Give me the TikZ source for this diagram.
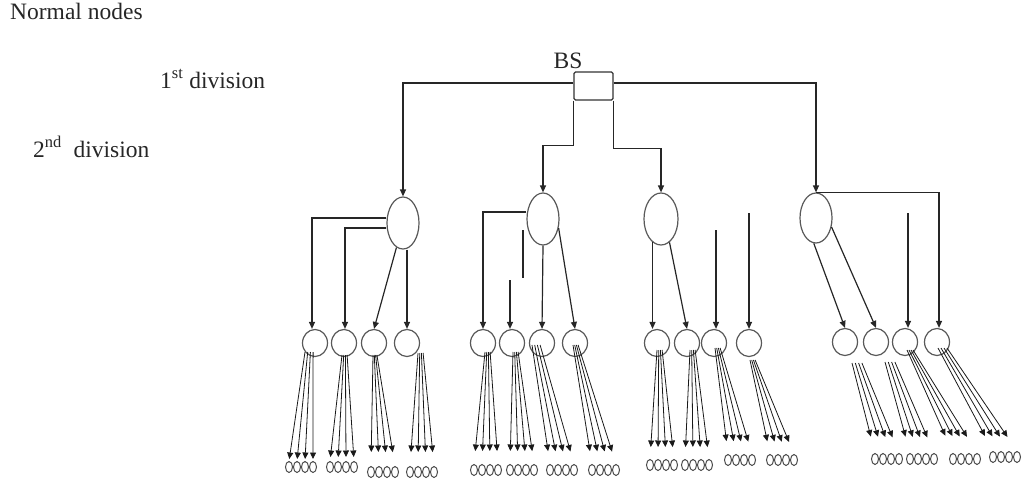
\documentclass[tikz,border=0pt]{standalone}
\usepackage{fontspec}
\setmainfont{Liberation Serif}
\usetikzlibrary{arrows.meta,shapes.geometric,calc}
\begin{document}
\begin{tikzpicture}[x=1pt,y=-1pt,
  lbl/.style={inner sep=0pt,font=\fontsize{23.5}{28}\selectfont,text=black!85},
  bsbox/.style={draw=black!80,line width=1.1pt,rounded corners=1.5pt,minimum width=39pt,minimum height=28pt,inner sep=0pt},
  head/.style={draw=black!65,line width=1.2pt,ellipse,minimum width=32pt,minimum height=52pt,inner sep=0pt},
  sub/.style={draw=black!65,line width=1.2pt,ellipse,minimum width=25pt,minimum height=27pt,inner sep=0pt},
  leaf/.style={draw=black!70,line width=1pt,ellipse,minimum width=7pt,minimum height=11pt,inner sep=0pt},
  conn/.style={draw=black!85,line width=1.2pt,-{Triangle[length=7pt,width=6pt]}},
  plain/.style={draw=black!85,line width=1.2pt},
  leafarrow/.style={draw=black!90,line width=0.8pt,-{Triangle[length=6.5pt,width=6pt]}}]
\useasboundingbox (0,0) rectangle (1024,487);

% labels
\node[lbl,anchor=base west] (nn) at (10,20) {Normal nodes};
\node[lbl,anchor=base west] (d1) at (160,88) {1\textsuperscript{st} division};
\node[lbl,anchor=base west] (d2) at (33,157) {2\textsuperscript{nd}\ \ division};
\node[lbl,anchor=base] (bslbl) at (568,68) {BS};

% base station
\node[bsbox] (bs) at (593.5,86) {};

% first division heads
\node[head] (e1) at (403,223) {};
\node[head] (e2) at (543,219) {};
\node[head,minimum width=34pt] (e3) at (661,219) {};
\node[head,minimum height=50pt] (e4) at (816,218) {};

% second division heads
\foreach \n/\x/\y in {c11/315/343,c12/344/343,c13/374/343,c14/407/343,
                     c21/483/343,c22/512/343,c23/542/343,c24/575/343,
                     c31/657/343,c32/687/343,c33/714/343,c34/749/343,
                     c41/845/342,c42/876/342,c43/905/342,c44/937/342}
  \node[sub] (\n) at (\x,\y) {};

% base station to first division
\draw[conn] ([yshift=3pt]bs.west) -| (e1.north);
\draw[conn] ([yshift=3pt]bs.east) -| (e4.north);
\draw[conn] (bs.south west) -- ++(0,45) -| (e2.north);
\draw[conn] (bs.south east) -- ++(0,48) -| (e3.north);

% free ends of the loose feeder lines
\coordinate (f1) at (523,230);
\coordinate (f1b) at (523,278);
\coordinate (f2) at (510,280);
\coordinate (f3) at (716,230);
\coordinate (f4) at (749,213);
\coordinate (f5) at (908,213);

% first division to second division
\draw[conn] ([yshift=5pt]e1.west) -| ([xshift=-3pt]c11.north);
\draw[conn] ([yshift=-5pt]e1.west) -| ([xshift=1pt]c12.north);
\draw[conn] (e1.-105) -- (c13.north);
\draw[conn] (c14.north |- e1.south) -- (c14.north);

\draw[conn] ([yshift=7pt]e2.west) -| (c21.north);
\draw[plain] (f1) -- (f1b);
\draw[conn] (f2) -- (f2 |- c22.north);
\draw[conn] (e2.south) -- (c23.north);
\draw[conn] (e2.-30) -- (c24.north);

\draw[conn] (e3.-110) -- (e3.-110 |- c31.north);
\draw[conn] (e3.-70) -- (c32.north);
\draw[conn] (f3) -- (f3 |- c33.north);
\draw[conn] (f4) -- (c34.north);

\draw[conn] (e4.-95) -- (c41.north);
\draw[conn] (e4.-30) -- (c42.north);
\draw[conn] (f5) -- (f5 |- c43.north);
\draw[conn] (e4.north) -| ([xshift=2pt]c44.north);

% second division to normal nodes
\foreach \c/\dx/\st/\dy/\lx/\ly/\sh in {
  c11/-10/2.7/9/289/467/2,
  c12/-2/1.7/12/330/467/4,
  c13/-1/1.3/12/371/472/14,
  c14/11/1.7/10/410/472/14,
  c21/2/1.7/9/474/470/13,
  c22/1/1.7/9/510/470/13,
  c23/-10/2.7/2/550/470/13,
  c24/-2/1.7/2/592/470/13,
  c31/0/1.7/7/650/465/12,
  c32/3/1.7/7/685/465/12,
  c33/1/1.7/5/728/460/13,
  c34/1/1.7/17/770/460/13,
  c41/7/3.3/21/875/459/17,
  c42/9/3.3/20/910/459/17,
  c43/2/2/8/953/459/19,
  c44/1/3/6/993/457/17}
{
  \foreach \k in {0,1,2,3} {
    \node[leaf] (\c-\k) at ({\lx+8*\k},\ly) {};
    \draw[leafarrow,shorten >=\sh pt] ($(\c.center)+({\dx+\k*\st},\dy)$) -- (\c-\k.north);
  }
}
\end{tikzpicture}
\end{document}
